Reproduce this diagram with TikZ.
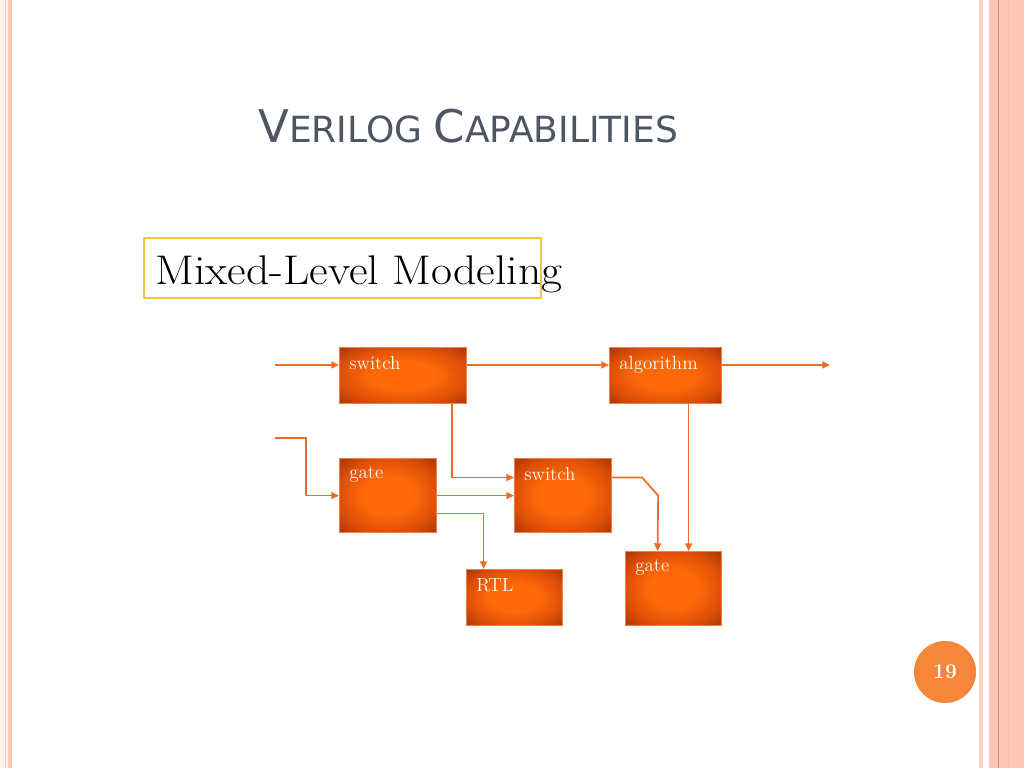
\documentclass[tikz,border=0pt]{standalone}
\usepackage{fontspec}
\newfontfamily\titlefont{DejaVu Sans}
\usetikzlibrary{shapes,arrows,arrows.meta}

\definecolor{boxin}{RGB}{255,104,8}
\definecolor{boxmid}{RGB}{222,80,8}
\definecolor{boxout}{RGB}{170,52,8}
\definecolor{boxedge}{RGB}{240,128,64}
\definecolor{wire}{RGB}{234,110,40}
\definecolor{stripe}{RGB}{252,200,182}
\definecolor{stripedark}{RGB}{226,150,118}
\definecolor{cream}{RGB}{253,243,234}
\definecolor{titlegray}{RGB}{78,86,100}
\definecolor{frameyellow}{RGB}{240,200,64}
\definecolor{pagenum}{RGB}{245,134,58}
\pgfdeclareradialshading{glow}{\pgfpointorigin}{color(0bp)=(boxin); color(13bp)=(boxin); color(25bp)=(boxmid); color(36bp)=(boxout); color(50bp)=(boxout)}

\begin{document}
\begin{tikzpicture}[x=0.025cm, y=-0.025cm, auto]
\tikzstyle{block} = [rectangle, draw=boxedge, line width=0.8pt, shading=glow, anchor=north west, inner sep=0pt]
\tikzstyle{boxtext} = [anchor=north west, inner sep=0pt, xshift=0.25cm, yshift=-0.22cm, text=white, font=\fontsize{13.5}{15}\selectfont]
\tikzstyle{line} = [draw=wire, line width=1.2pt, -{Triangle[length=5.5pt,width=5pt]}]

% slide frame
\useasboundingbox (0,0) rectangle (1024,768);
\fill[white] (0,0) rectangle (1024,768);
\fill[cream] (0,0) rectangle (8,768);
\draw[stripe, line width=0.8pt] (5.5,0) -- (5.5,768);
\fill[stripe] (8,0) rectangle (12,768);
\fill[stripe!80] (979,0) rectangle (983,768);
\fill[stripe] (989,0) rectangle (1024,768);
\draw[stripedark, line width=0.7pt] (998,0) -- (998,768);
\draw[stripe!80!stripedark, line width=0.5pt] (1008,0) -- (1008,768);

% title and caption
\node[anchor=base west, text=titlegray, inner sep=0pt] (title) at (258,143)
  {\titlefont\fontsize{32}{36}\selectfont V\fontsize{25.6}{30}\selectfont ERILOG \fontsize{32}{36}\selectfont C\fontsize{25.6}{30}\selectfont APABILITIES};
\draw[frameyellow, line width=1.6pt] (144,238) rectangle (541,298);
\node[anchor=base west, inner sep=0pt, font=\fontsize{29.5}{34}\selectfont] (mixed) at (155,284) {\scalebox{1.1}[1]{Mixed-Level Modeling}};

% blocks
\node [block, minimum width=3.175cm, minimum height=1.4cm, label={[boxtext]north west:switch}] (sw1) at (339,347) {};
\node [block, minimum width=2.8cm, minimum height=1.4cm, label={[boxtext]north west:algorithm}] (alg) at (609,347) {};
\node [block, minimum width=2.425cm, minimum height=1.85cm, label={[boxtext]north west:gate}] (gate1) at (339,458) {};
\node [block, minimum width=2.425cm, minimum height=1.85cm, label={[boxtext]north west:switch}] (sw2) at (514,458) {};
\node [block, minimum width=2.4cm, minimum height=1.4cm, label={[boxtext]north west:RTL}] (rtl) at (466,569) {};
\node [block, minimum width=2.4cm, minimum height=1.85cm, label={[boxtext]north west:gate}] (gate2) at (625,551) {};

\coordinate (in1) at (275,365);
\coordinate (in2) at (275,438);
\coordinate (out) at (830,365);

\path [line] (in1) -- (in1 -| sw1.west);
\path [line] (in1 -| sw1.east) -- (in1 -| alg.west);
\path [line] (out -| alg.east) -- (out);
\path [line] (in2) -- ++(31,0) |- (gate1.west);
\path [line] ([xshift=-0.375cm]sw1.south east) |- ([yshift=0.45cm]sw2.west);
\path [line] (gate1.east) -- (sw2.west);
\path [line] ([yshift=-0.45cm]gate1.east) -| ([xshift=-0.775cm]rtl.north);
\path [line] ([yshift=0.45cm]sw2.east) -- ++(30,0) -- ++(16,18) -- ([xshift=-0.4cm]gate2.north);
\path [line] ([xshift=0.575cm]alg.south) -- ([xshift=0.575cm]alg.south |- gate2.north);

% page number
\node[ellipse, fill=pagenum, minimum width=1.55cm, minimum height=1.55cm, text=white, font=\bfseries\fontsize{15}{17}\selectfont] (page) at (945,672) {19};
\end{tikzpicture}
\end{document}
